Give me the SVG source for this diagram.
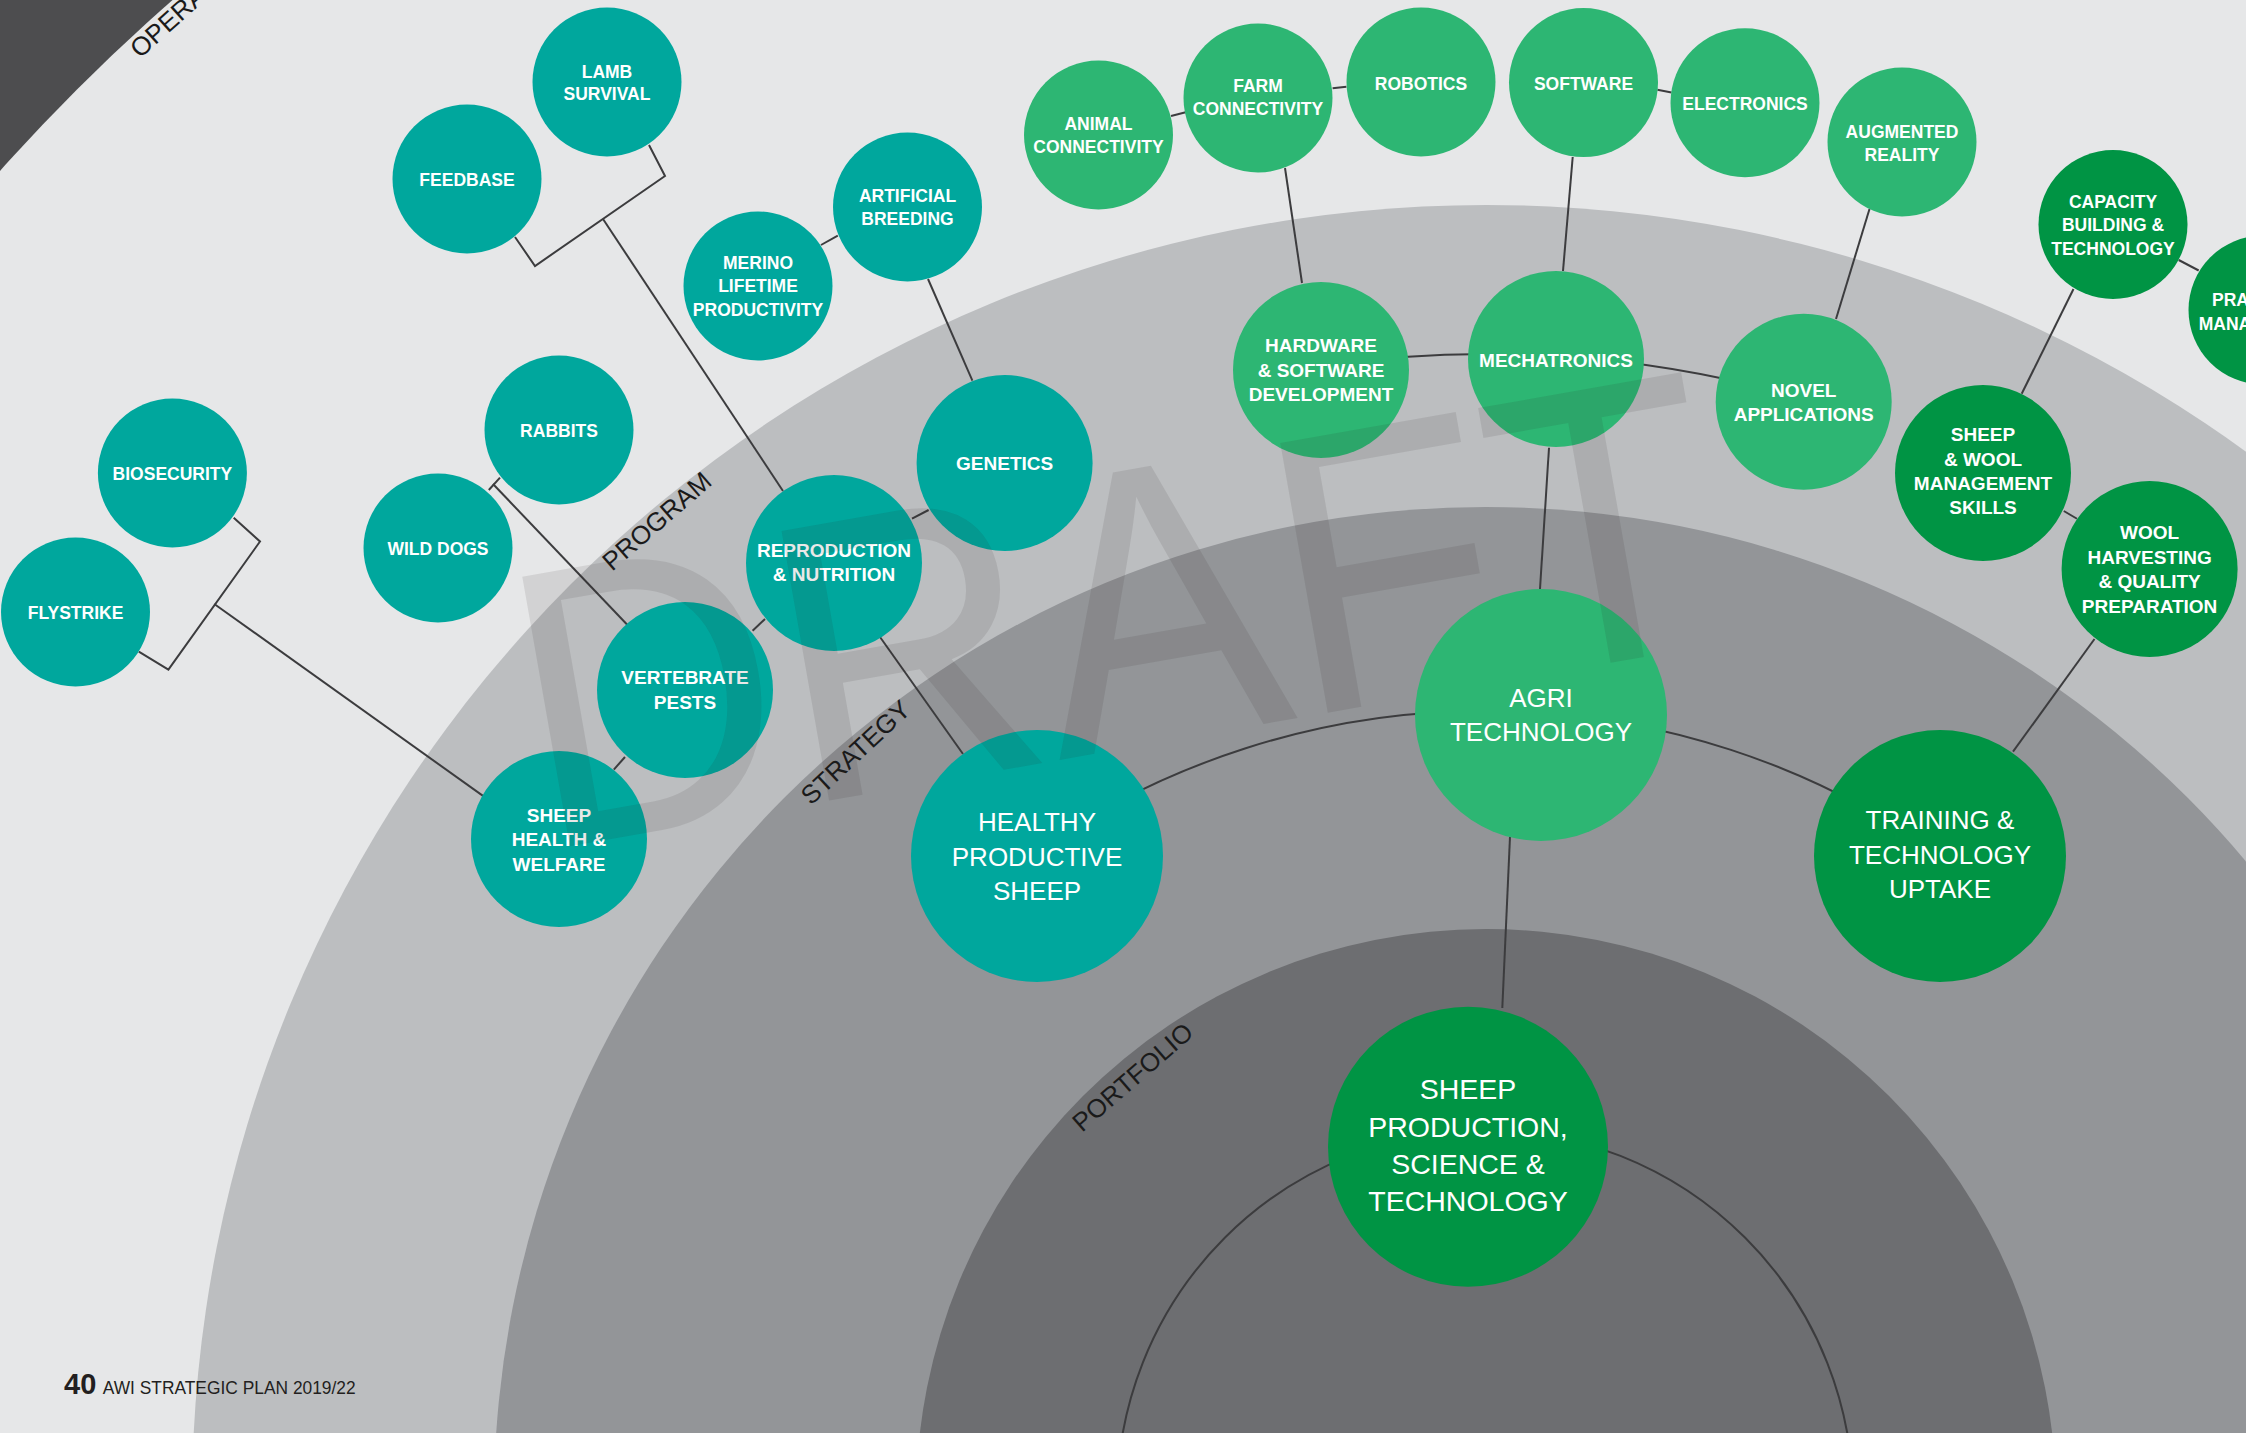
<svg xmlns="http://www.w3.org/2000/svg" width="2246" height="1433" viewBox="0 0 2246 1433">
<style>
.c{stroke:#3c3c3e;stroke-width:2;fill:none;stroke-linejoin:miter}
.teal{fill:#00a79d}
.grn{fill:#2db673}
.dg{fill:#009444}
text{font-family:"Liberation Sans",Arial,sans-serif}
.s{font-size:17.5px;font-weight:bold;fill:#fff;text-anchor:middle}
.sl{font-size:17.5px;font-weight:bold;fill:#fff;text-anchor:start}
.m{font-size:19px;font-weight:bold;fill:#fff;text-anchor:middle}
.l{font-size:26px;font-weight:normal;fill:#fff;text-anchor:middle}
.xl{font-size:28.5px;font-weight:normal;fill:#fff;text-anchor:middle}
.lab{font-size:26px;fill:#1a1a1a}
</style>
<g id="background">
<rect x="0" y="0" width="2246" height="1433" fill="#4d4d4f"/>
<circle cx="1486" cy="1499" r="1993" fill="#e6e7e8"/>
<circle cx="1486" cy="1499" r="1294" fill="#bcbec0"/>
<circle cx="1486" cy="1499" r="992" fill="#939598"/>
<circle cx="1486" cy="1499" r="570" fill="#6d6e71"/>
</g>
<g id="ring-labels">
<text class="lab" x="0" y="0" transform="translate(140 59) rotate(-42)">OPERA</text>
<text class="lab" x="0" y="0" transform="translate(612 572) rotate(-41)">PROGRAM</text>
<text class="lab" x="0" y="0" transform="translate(811 806) rotate(-43)">STRATEGY</text>
<text class="lab" x="0" y="0" transform="translate(1082 1133) rotate(-41)">PORTFOLIO</text>
</g>
<g id="connectors">
<circle class="c" cx="1485" cy="1498" r="368"/>
<path class="c" d="M1034.7 852.7 A788 788 0 0 1 1940.6 855.2"/>
<path class="c" d="M1320.4 366 A1145 1145 0 0 1 1804.8 399.1"/>
<polyline class="c" points="649,145 665,176 535,266 515,237"/>
<line class="c" x1="603" y1="219" x2="783" y2="491"/>
<polyline class="c" points="233.7,517.8 260,541.5 168.4,669.7 138.8,651.7"/>
<line class="c" x1="214.3" y1="604" x2="483.7" y2="796.4"/>
<line class="c" x1="488.8" y1="490" x2="500" y2="477.6"/>
<line class="c" x1="493" y1="484" x2="627.5" y2="625"/>
<line class="c" x1="625" y1="757" x2="613.8" y2="769.6"/>
<line class="c" x1="752.6" y1="630.7" x2="765" y2="619"/>
<line class="c" x1="912" y1="518.6" x2="928.6" y2="510"/>
<line class="c" x1="880" y1="637" x2="963" y2="754"/>
<line class="c" x1="821" y1="245" x2="837.8" y2="235.7"/>
<line class="c" x1="928" y1="279" x2="972.4" y2="380.7"/>
<line class="c" x1="1171" y1="116" x2="1185.7" y2="112.3"/>
<line class="c" x1="1332.6" y1="88.3" x2="1346.4" y2="86.7"/>
<line class="c" x1="1285" y1="168" x2="1302" y2="283"/>
<line class="c" x1="1572.7" y1="157" x2="1563" y2="271"/>
<line class="c" x1="1657.4" y1="89.7" x2="1671.5" y2="92.4"/>
<line class="c" x1="1869.5" y1="209" x2="1836" y2="319"/>
<line class="c" x1="1549" y1="447.8" x2="1540" y2="589"/>
<line class="c" x1="1510" y1="836.7" x2="1502.3" y2="1008"/>
<line class="c" x1="2178.7" y1="260" x2="2198.7" y2="270.5"/>
<line class="c" x1="2073.5" y1="289" x2="2021.7" y2="393.75"/>
<line class="c" x1="2063.8" y1="511" x2="2077" y2="518.75"/>
<line class="c" x1="2094.5" y1="639" x2="2013" y2="751.7"/>
</g>
<g id="n-lamb-survival"><circle class="teal" cx="607" cy="82" r="74.5"/><text class="s"><tspan x="607" y="77.5">LAMB</tspan><tspan x="607" y="100">SURVIVAL</tspan></text></g>
<g id="n-feedbase"><circle class="teal" cx="467" cy="179" r="74.5"/><text class="s" x="467" y="185.5">FEEDBASE</text></g>
<g id="n-artificial-breeding"><circle class="teal" cx="907.5" cy="207" r="74.5"/><text class="s"><tspan x="907.5" y="202">ARTIFICIAL</tspan><tspan x="907.5" y="225">BREEDING</tspan></text></g>
<g id="n-merino-lifetime-productivity"><circle class="teal" cx="758" cy="286" r="74.5"/><text class="s"><tspan x="758" y="268.5">MERINO</tspan><tspan x="758" y="292">LIFETIME</tspan><tspan x="758" y="315.5">PRODUCTIVITY</tspan></text></g>
<g id="n-genetics"><circle class="teal" cx="1004.6" cy="463" r="88"/><text class="m" x="1004.6" y="469.5">GENETICS</text></g>
<g id="n-reproduction-nutrition"><circle class="teal" cx="834" cy="563" r="88"/><text class="m"><tspan x="834" y="557">REPRODUCTION</tspan><tspan x="834" y="581">&amp; NUTRITION</tspan></text></g>
<g id="n-rabbits"><circle class="teal" cx="559" cy="430" r="74.5"/><text class="s" x="559" y="436.5">RABBITS</text></g>
<g id="n-wild-dogs"><circle class="teal" cx="438" cy="548" r="74.5"/><text class="s" x="438" y="555">WILD DOGS</text></g>
<g id="n-biosecurity"><circle class="teal" cx="172.4" cy="473" r="74.5"/><text class="s" x="172.4" y="480">BIOSECURITY</text></g>
<g id="n-flystrike"><circle class="teal" cx="75.5" cy="612" r="74.5"/><text class="s" x="75.5" y="619">FLYSTRIKE</text></g>
<g id="n-vertebrate-pests"><circle class="teal" cx="685" cy="690" r="88"/><text class="m"><tspan x="685" y="684">VERTEBRATE</tspan><tspan x="685" y="709">PESTS</tspan></text></g>
<g id="n-sheep-health-welfare"><circle class="teal" cx="559" cy="839" r="88"/><text class="m"><tspan x="559" y="822">SHEEP</tspan><tspan x="559" y="846">HEALTH &amp;</tspan><tspan x="559" y="871">WELFARE</tspan></text></g>
<g id="n-healthy-productive-sheep"><circle class="teal" cx="1037" cy="856" r="126"/><text class="l"><tspan x="1037" y="830.5">HEALTHY</tspan><tspan x="1037" y="866">PRODUCTIVE</tspan><tspan x="1037" y="899.5">SHEEP</tspan></text></g>
<g id="n-animal-connectivity"><circle class="grn" cx="1098.5" cy="135" r="74.5"/><text class="s"><tspan x="1098.5" y="129.5">ANIMAL</tspan><tspan x="1098.5" y="153">CONNECTIVITY</tspan></text></g>
<g id="n-farm-connectivity"><circle class="grn" cx="1258" cy="98" r="74.5"/><text class="s"><tspan x="1258" y="91.7">FARM</tspan><tspan x="1258" y="115">CONNECTIVITY</tspan></text></g>
<g id="n-robotics"><circle class="grn" cx="1421" cy="82" r="74.5"/><text class="s" x="1421" y="90">ROBOTICS</text></g>
<g id="n-software"><circle class="grn" cx="1583.5" cy="82.6" r="74.5"/><text class="s" x="1583.5" y="90">SOFTWARE</text></g>
<g id="n-electronics"><circle class="grn" cx="1745" cy="102.7" r="74.5"/><text class="s" x="1745" y="109.5">ELECTRONICS</text></g>
<g id="n-augmented-reality"><circle class="grn" cx="1902" cy="142" r="74.5"/><text class="s"><tspan x="1902" y="137.5">AUGMENTED</tspan><tspan x="1902" y="160.5">REALITY</tspan></text></g>
<g id="n-hardware-software-development"><circle class="grn" cx="1321" cy="370" r="88"/><text class="m"><tspan x="1321" y="352">HARDWARE</tspan><tspan x="1321" y="376.5">&amp; SOFTWARE</tspan><tspan x="1321" y="400.5">DEVELOPMENT</tspan></text></g>
<g id="n-mechatronics"><circle class="grn" cx="1556" cy="359" r="88"/><text class="m" x="1556" y="366.5">MECHATRONICS</text></g>
<g id="n-novel-applications"><circle class="grn" cx="1803.7" cy="401.8" r="88"/><text class="m"><tspan x="1803.7" y="396.5">NOVEL</tspan><tspan x="1803.7" y="421">APPLICATIONS</tspan></text></g>
<g id="n-agri-technology"><circle class="grn" cx="1541" cy="715" r="126"/><text class="l"><tspan x="1541" y="706.7">AGRI</tspan><tspan x="1541" y="740.7">TECHNOLOGY</tspan></text></g>
<g id="n-capacity-building"><circle class="dg" cx="2113" cy="224.5" r="74.5"/><text class="s"><tspan x="2113" y="207.6">CAPACITY</tspan><tspan x="2113" y="231">BUILDING &amp;</tspan><tspan x="2113" y="254.5">TECHNOLOGY</tspan></text></g>
<g id="n-practical-management"><circle class="dg" cx="2263" cy="310" r="74.5"/><text class="sl"><tspan x="2212" y="305.8">PRA</tspan><tspan x="2198.7" y="329.5">MANA</tspan></text></g>
<g id="n-sheep-wool-management-skills"><circle class="dg" cx="1983" cy="473" r="88"/><text class="m"><tspan x="1983" y="441">SHEEP</tspan><tspan x="1983" y="465.5">&amp; WOOL</tspan><tspan x="1983" y="490">MANAGEMENT</tspan><tspan x="1983" y="514">SKILLS</tspan></text></g>
<g id="n-wool-harvesting"><circle class="dg" cx="2149.6" cy="569" r="88"/><text class="m"><tspan x="2149.6" y="539">WOOL</tspan><tspan x="2149.6" y="563.5">HARVESTING</tspan><tspan x="2149.6" y="588">&amp; QUALITY</tspan><tspan x="2149.6" y="612.5">PREPARATION</tspan></text></g>
<g id="n-training-technology-uptake"><circle class="dg" cx="1940" cy="856" r="126"/><text class="l"><tspan x="1940" y="829.3">TRAINING &amp;</tspan><tspan x="1940" y="864.3">TECHNOLOGY</tspan><tspan x="1940" y="898.3">UPTAKE</tspan></text></g>
<g id="n-sheep-production"><circle class="dg" cx="1468" cy="1146.7" r="140"/><text class="xl"><tspan x="1468" y="1099">SHEEP</tspan><tspan x="1468" y="1137">PRODUCTION,</tspan><tspan x="1468" y="1174">SCIENCE &amp;</tspan><tspan x="1468" y="1211">TECHNOLOGY</tspan></text></g>
<g id="footer">
<text x="64" y="1394" font-size="29" font-weight="bold" fill="#231f20">40</text>
<text x="102.7" y="1394" font-size="18" fill="#231f20" textLength="253" lengthAdjust="spacingAndGlyphs">AWI STRATEGIC PLAN 2019/22</text>
</g>
<g id="watermark">
<text x="-26" y="0" transform="translate(566 847) rotate(-10)" font-size="398" textLength="1215" lengthAdjust="spacingAndGlyphs" fill="#231f20" fill-opacity="0.1">DRAFT</text>
</g>
</svg>
